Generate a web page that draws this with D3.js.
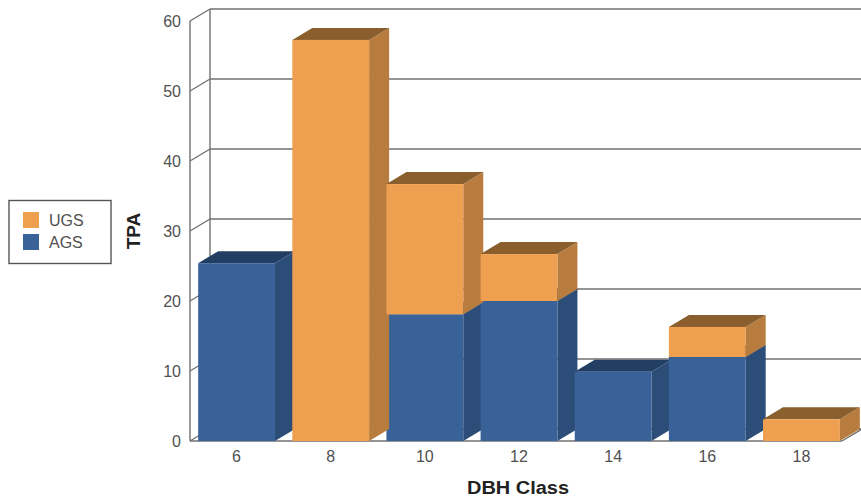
<!DOCTYPE html>
<html>
<head>
<meta charset="utf-8">
<script src="https://cdn.jsdelivr.net/npm/d3@7"></script>
<style>
  html, body { margin: 0; padding: 0; background: #fff; }
  svg { display: block; }
  text { font-family: "Liberation Sans", Arial, sans-serif; }
</style>
</head>
<body>
<div id="chart"></div>
<script>
// Trees per acre by diameter class, stacked by growing-stock group
const dbhClasses = ["6", "8", "10", "12", "14", "16", "18"];
const agsValues = [25.4, 0, 18.1, 20, 9.9, 12, 0];
const ugsValues = [0, 57.3, 18.6, 6.7, 0, 4.3, 3.1];
const seriesNames = ["AGS", "UGS"];
const legendNames = ["UGS", "AGS"];
const yTicks = [0, 10, 20, 30, 40, 50, 60];

const chartWidth = 861, chartHeight = 501;
const plotLeft = 189.5, plotRight = 848.5, plotTop = 21, plotBottom = 441;
const axisLeftEdge = 190;
const depthX = 20, depthY = 12;

// Front, top and side shades for each series
const shades = {
  AGS: { front: "#396298", top: "#223f63", side: "#2c4d78" },
  UGS: { front: "#ee9f4f", top: "#8a5f2d", side: "#b87d3e" }
};

const x = d3.scaleBand().domain(dbhClasses).range([plotLeft, plotRight]).paddingInner(0.184).paddingOuter(0.092);
const y = d3.scaleLinear().domain([0, 60]).range([plotBottom, plotTop]);

const svg = d3.select("#chart").append("svg").attr("width", chartWidth).attr("height", chartHeight);

const gridColor = "#707070";

// Back wall gridlines with the slanted ticks running to the front plane
const grid = svg.append("g").attr("fill", "none").attr("stroke", gridColor).attr("stroke-width", 1.4);
grid.selectAll(".back").data(yTicks).join("line")
  .attr("x1", axisLeftEdge + depthX).attr("x2", chartWidth)
  .attr("y1", d => y(d) - depthY).attr("y2", d => y(d) - depthY);
grid.selectAll(".slant").data(yTicks).join("line")
  .attr("x1", axisLeftEdge).attr("x2", axisLeftEdge + depthX)
  .attr("y1", d => y(d)).attr("y2", d => y(d) - depthY);
grid.append("line").attr("x1", axisLeftEdge).attr("x2", axisLeftEdge).attr("y1", y(60)).attr("y2", y(0));
grid.append("line").attr("x1", axisLeftEdge + depthX).attr("x2", axisLeftEdge + depthX)
  .attr("y1", y(60) - depthY).attr("y2", y(0) - depthY);

// Floor edge along the front and up the right side
grid.append("line").attr("x1", axisLeftEdge).attr("x2", 842).attr("y1", y(0)).attr("y2", y(0));
grid.append("line").attr("x1", 842).attr("x2", 842 + depthX).attr("y1", y(0)).attr("y2", y(0) - depthY);

const stacks = d3.stack().keys(seriesNames)(
  dbhClasses.map((c, i) => ({ AGS: agsValues[i], UGS: ugsValues[i], dbh: c }))
);

// Each stack segment is a box: side face, top face, then front face
const pts = a => a.map(p => p.join(",")).join(" ");
stacks.forEach(layer => {
  const c = shades[layer.key];
  const boxes = svg.append("g").selectAll("g")
    .data(layer.filter(d => d[1] > d[0]))
    .join("g");
  boxes.each(function (d) {
    const g = d3.select(this);
    const x0 = x(d.data.dbh), x1 = x0 + x.bandwidth();
    const yT = y(d[1]), yB = y(d[0]);
    g.append("polygon").attr("fill", c.side).attr("points", pts([
      [x1, yT], [x1 + depthX, yT - depthY], [x1 + depthX, yB - depthY], [x1, yB]
    ]));
    g.append("polygon").attr("fill", c.top).attr("points", pts([
      [x0, yT], [x0 + depthX, yT - depthY], [x1 + depthX, yT - depthY], [x1, yT]
    ]));
    g.append("rect").attr("fill", c.front)
      .attr("x", x0).attr("y", yT).attr("width", x.bandwidth()).attr("height", yB - yT);
  });
});

// Axis labels
const axisText = "#505050";
const yAxis = svg.append("g").attr("transform", `translate(${axisLeftEdge},0)`)
  .call(d3.axisLeft(y).tickValues(yTicks).tickSize(0).tickPadding(9));
yAxis.select(".domain").remove();
yAxis.selectAll("text").attr("font-size", 16).attr("fill", axisText)
  .style("font-family", '"Liberation Sans", Arial, sans-serif');

const xAxis = svg.append("g").attr("transform", `translate(0,${plotBottom})`)
  .call(d3.axisBottom(x).tickSize(0).tickPadding(10));
xAxis.select(".domain").remove();
xAxis.selectAll("text").attr("font-size", 16).attr("fill", axisText)
  .style("font-family", '"Liberation Sans", Arial, sans-serif');

svg.append("text").attr("x", 518).attr("y", 494).attr("text-anchor", "middle")
  .attr("font-size", 18).attr("font-weight", "bold").attr("fill", "#222")
  .attr("textLength", 102).attr("lengthAdjust", "spacingAndGlyphs").text("DBH Class");
svg.append("text").attr("transform", "translate(140,231) rotate(-90)").attr("text-anchor", "middle")
  .attr("font-size", 19).attr("font-weight", "bold").attr("fill", "#222").text("TPA");

// Legend
const legend = svg.append("g");
legend.append("rect").attr("x", 9).attr("y", 200.5).attr("width", 102).attr("height", 63)
  .attr("fill", "#fff").attr("stroke", "#555").attr("stroke-width", 1.4);
const rows = legend.selectAll(".row").data(legendNames).join("g")
  .attr("transform", (d, i) => `translate(0,${212 + i * 22})`);
rows.append("rect").attr("x", 23).attr("width", 16).attr("height", 16)
  .attr("fill", d => shades[d].front);
rows.append("text").attr("x", 49).attr("y", 14).attr("font-size", 16).attr("fill", axisText).text(d => d);
</script>
</body>
</html>
